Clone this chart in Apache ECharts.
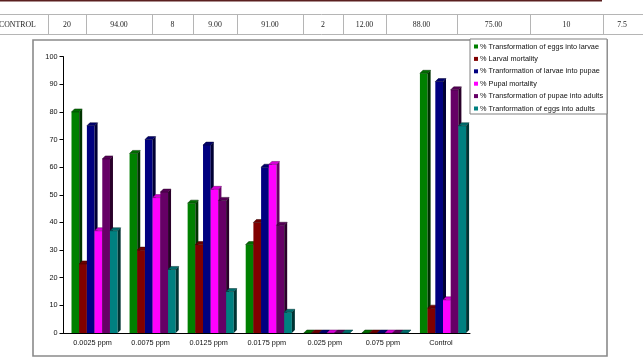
<!DOCTYPE html>
<html><head><meta charset="utf-8">
<script src="https://cdn.jsdelivr.net/npm/echarts@6/dist/echarts.min.js"></script>
<style>html,body{margin:0;padding:0;background:#fff;}#c{width:643px;height:359px;}</style>
</head><body><div id="c"></div>
<script>
const categories = ['0.0025 ppm', '0.0075 ppm', '0.0125 ppm', '0.0175 ppm', '0.025 ppm', '0.075 ppm', 'Control'];
const seriesNames = [
  '% Transformation of eggs into larvae',
  '% Larval mortality',
  '% Tranformation of larvae into pupae',
  '% Pupal mortality',
  '% Transformation of pupae into adults',
  '% Tranformation of eggs into adults'
];
const eggsToLarvae   = [80, 65, 47, 32, 0, 0, 94];
const larvalMortality = [25, 30, 32, 40, 0, 0, 9];
const larvaeToPupae  = [75, 70, 68, 60, 0, 0, 91];
const pupalMortality = [37, 49, 52, 61, 0, 0, 12];
const pupaeToAdults  = [63, 51, 48, 39, 0, 0, 88];
const eggsToAdults   = [37, 23, 15, 7.5, 0, 0, 75];
const yTickLabels = ['0', '10', '20', '30', '40', '50', '60', '70', '80', '90', '100'];
const tableCells = ['CONTROL', '20', '94.00', '8', '9.00', '91.00', '2', '12.00', '88.00', '75.00', '10', '7.5'];

const allValues = [eggsToLarvae, larvalMortality, larvaeToPupae, pupalMortality, pupaeToAdults, eggsToAdults];
const colors = ['#008000', '#800000', '#000080', '#ff00ff', '#660066', '#008080'];

function shade(hex, f) {
  const n = parseInt(hex.slice(1), 16);
  const r = Math.round(((n >> 16) & 255) * f), g = Math.round(((n >> 8) & 255) * f), b = Math.round((n & 255) * f);
  return 'rgb(' + r + ',' + g + ',' + b + ')';
}

function makeRender(s, color) {
  const side = shade(color, 0.4);
  const topc = shade(color, 0.85);
  return function (params, api) {
    const i = api.value(0), v = api.value(1);
    const base = api.coord([i, 0]);
    const top = api.coord([i, v]);
    const cw = api.size([1, 0])[0];
    const w = cw * 0.1325;
    const x = base[0] - cw / 2 + cw * 0.1377 + s * w;
    const d = 3;
    const yb = base[1], yt = top[1];
    return {
      type: 'group', children: [
        { type: 'rect', shape: { x: x, y: yt, width: w, height: yb - yt }, style: { fill: color } },
        { type: 'polygon', shape: { points: [[x + w, yt], [x + w + d, yt - d], [x + w + d, yb - d], [x + w, yb]] }, style: { fill: side } },
        { type: 'polygon', shape: { points: [[x, yt], [x + d, yt - d], [x + w + d, yt - d], [x + w, yt]] }, style: { fill: topc, stroke: side, lineWidth: 0.5 } }
      ]
    };
  };
}

const series = allValues.map(function (vals, s) {
  return {
    type: 'custom',
    name: seriesNames[s],
    itemStyle: { color: colors[s] },
    renderItem: makeRender(s, colors[s]),
    encode: { x: 0, y: 1 },
    data: vals.map(function (v, i) { return [i, v]; }),
    clip: false
  };
});

// table graphic
const cellBounds = [-10, 48, 86, 152, 193, 237, 303, 343, 386, 457, 530, 603, 641];
const graphics = [];
graphics.push({ type: 'rect', shape: { x: 0, y: 0, width: 602, height: 1.6 }, style: { fill: '#5a1f1f' } });
graphics.push({ type: 'line', shape: { x1: 0, y1: 14.5, x2: 643, y2: 14.5 }, style: { stroke: '#b5b5b5', lineWidth: 1 } });
graphics.push({ type: 'line', shape: { x1: 0, y1: 34.5, x2: 643, y2: 34.5 }, style: { stroke: '#b5b5b5', lineWidth: 1 } });
for (let k = 1; k < cellBounds.length - 1; k++) {
  graphics.push({ type: 'line', shape: { x1: cellBounds[k] + 0.5, y1: 14.5, x2: cellBounds[k] + 0.5, y2: 34.5 }, style: { stroke: '#b5b5b5', lineWidth: 1 } });
}
tableCells.forEach(function (t, k) {
  const left = k === 0;
  graphics.push({
    type: 'text',
    x: left ? -1 : (cellBounds[k] + cellBounds[k + 1]) / 2,
    y: 24.5,
    style: { text: t, fill: '#222', font: '7.8px "Liberation Serif"', align: left ? 'left' : 'center', verticalAlign: 'middle' }
  });
});
// chart frame
graphics.push({ type: 'rect', shape: { x: 33, y: 40, width: 574, height: 316 }, style: { fill: 'none', stroke: '#8a8a8a', lineWidth: 1.6 }, z: -1 });

const chart = echarts.init(document.getElementById('c'), null, { renderer: 'canvas' });
chart.setOption({
  animation: false,
  backgroundColor: '#fff',
  graphic: graphics,
  grid: { left: 63.5, right: 173, top: 56.7, bottom: 26 },
  legend: {
    orient: 'vertical',
    left: 470, top: 39,
    data: seriesNames,
    icon: 'rect',
    itemWidth: 4, itemHeight: 4,
    itemGap: 3.4,
    padding: [3, 4, 1, 4],
    borderColor: '#808080', borderWidth: 1,
    backgroundColor: '#fff',
    textStyle: { fontFamily: 'Liberation Sans', fontSize: 7.3, color: '#111', lineHeight: 9, padding: [0, 0, 0, -3] }
  },
  xAxis: {
    type: 'category',
    data: categories,
    axisLine: { lineStyle: { color: '#000', width: 1 } },
    axisTick: { length: 4, lineStyle: { color: '#000' } },
    axisLabel: { fontFamily: 'Liberation Sans', fontSize: 7.3, color: '#111', margin: 6 }
  },
  yAxis: {
    type: 'value',
    min: 0, max: 100, interval: 10,
    axisLine: { show: true, lineStyle: { color: '#000', width: 1 } },
    axisTick: { show: true, length: 4, lineStyle: { color: '#000' } },
    splitLine: { show: false },
    axisLabel: {
      fontFamily: 'Liberation Sans', fontSize: 7.3, color: '#111', margin: 6,
      formatter: function (v) { return yTickLabels[Math.round(v / 10)]; }
    }
  },
  series: series
});
</script></body></html>
